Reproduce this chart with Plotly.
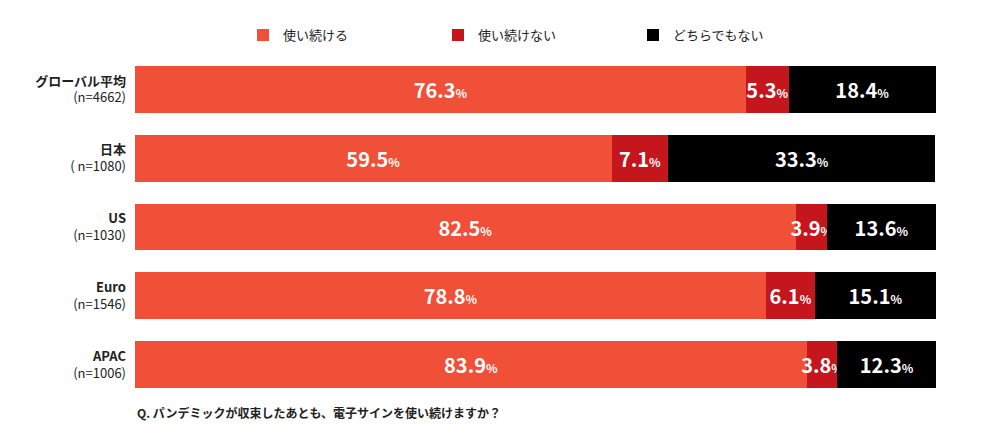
import plotly.graph_objects as go

categories = ["グローバル平均", "日本", "US", "Euro", "APAC"]
counts = ["(n=4662)", "( n=1080)", "(n=1030)", "(n=1546)", "(n=1006)"]
keep_using = [76.3, 59.5, 82.5, 78.8, 83.9]
stop_using = [5.3, 7.1, 3.9, 6.1, 3.8]
neither = [18.4, 33.3, 13.6, 15.1, 12.3]

series = [
    ("使い続ける", keep_using, "#EF5037"),
    ("使い続けない", stop_using, "#C4161C"),
    ("どちらでもない", neither, "#000000"),
]

FONT = "Noto Sans CJK JP"
ylabels = [f"<b>{c}</b><br>{n}" for c, n in zip(categories, counts)]

fig = go.Figure()
for name, vals, color in series:
    fig.add_trace(go.Bar(
        y=ylabels, x=vals, name=name, orientation="h",
        marker=dict(color=color, line=dict(width=0)),
        text=[f"<b>{v:.1f}</b><span style='font-size:12px'><b>%</b></span>" for v in vals],
        textposition="inside", insidetextanchor="middle", textangle=0,
        textfont=dict(color="white", size=20, family=FONT),
        constraintext="none",
    ))

fig.update_layout(
    width=996, height=431,
    barmode="stack", bargap=0.32,
    plot_bgcolor="white", paper_bgcolor="white",
    margin=dict(l=127, r=68, t=47, b=40, autoexpand=False),
    font=dict(family=FONT, color="#222", size=13),
    xaxis=dict(range=[0, 100], visible=False),
    yaxis=dict(autorange="reversed", showgrid=False, ticks="", ticklabelstandoff=8,
               automargin=False),
    legend=dict(orientation="h", x=0.5, xanchor="center", y=1.058, yanchor="middle",
                entrywidth=150, font=dict(size=13), traceorder="normal"),
    uniformtext=dict(mode=False),
    annotations=[dict(
        text="<b>Q. パンデミックが収束したあとも、電子サインを使い続けますか？</b>",
        xref="paper", yref="paper", x=0, y=-0.038, xanchor="left", yanchor="middle",
        showarrow=False, font=dict(size=12, color="#222"),
    )],
)

fig.write_html("out.html")
